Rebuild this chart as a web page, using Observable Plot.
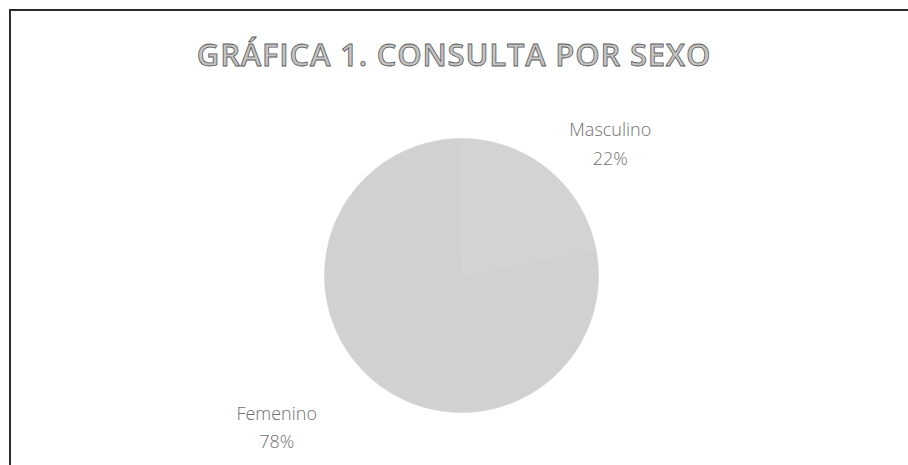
<!DOCTYPE html>
<html>
<head>
<meta charset="utf-8">
<script src="https://cdn.jsdelivr.net/npm/d3@7"></script>
<script src="https://cdn.jsdelivr.net/npm/@observablehq/plot@0.6"></script>
<style>
  html, body { margin: 0; padding: 0; background: #fff; }
  #wrap { position: relative; width: 908px; height: 465px; overflow: hidden; background: #fff; }
  #frame { position: absolute; left: 9px; top: 9px; right: -2px; bottom: -2px;
           border-top: 2px solid #2a2a33; border-left: 2px solid #2a2a38; }
  #title { position: absolute; left: 0; width: 908px; top: 33px; text-align: center;
           font-family: "Open Sans", "DejaVu Sans", sans-serif; font-weight: 600; font-size: 31px;
           color: #c4c4c4; -webkit-text-stroke: 0.8px #5a5a5a; letter-spacing: 0.8px; }
  #chart { position: absolute; left: 0; top: 0; }
</style>
</head>
<body>
<div id="wrap">
  <div id="frame"></div>
  <div id="chart"></div>
  <div id="title">GRÁFICA 1. CONSULTA POR SEXO</div>
</div>
<script>
// Data
const categories = ["Masculino", "Femenino"];
const values = [22, 78];
const labels = ["22%", "78%"];
const colors = ["#d3d3d3", "#d1d1d1"];

const rows = categories.map((c, i) => ({category: c, value: values[i], label: labels[i], color: colors[i]}));

// Pie layout (start at 12 o'clock, clockwise, in order)
const arcs = d3.pie().sort(null).value(d => d.value)(rows);

// Slice outlines in unit coordinates (angle from 12 o'clock, clockwise)
const slicePts = [];
arcs.forEach(a => {
  slicePts.push({category: a.data.category, color: a.data.color, x: 0, y: 0});
  const n = Math.max(2, Math.ceil((a.endAngle - a.startAngle) / 0.01));
  for (let k = 0; k <= n; k++) {
    const t = a.startAngle + (a.endAngle - a.startAngle) * k / n;
    slicePts.push({category: a.data.category, color: a.data.color, x: Math.sin(t), y: Math.cos(t)});
  }
});

// Label anchor at mid-angle just outside pie
const labelPts = arcs.map(a => {
  const m = (a.startAngle + a.endAngle) / 2;
  return {category: a.data.category, text: a.data.category + "\n" + a.data.label,
          x: 1.12 * Math.sin(m), y: 1.12 * Math.cos(m)};
});

const textStyle = {fontSize: 18, fill: "#707070", fontWeight: 300, lineHeight: 1.6,
                   fontFamily: "'Open Sans', sans-serif", lineAnchor: "middle", textAnchor: "middle"};

const chart = Plot.plot({
  width: 908,
  height: 465,
  margin: 0,
  style: {background: "transparent", fontFamily: "'Open Sans', sans-serif"},
  x: {domain: [-1, 1], range: [324, 598], axis: null},
  y: {domain: [-1, 1], range: [412, 138], axis: null},
  marks: [
    Plot.line(slicePts, {x: "x", y: "y", z: "category", fill: "color", stroke: "color",
                         strokeWidth: 0.5, curve: "linear-closed"}),
    Plot.text(labelPts.filter(d => d.category === "Masculino"),
              {x: "x", y: "y", text: "text", dx: 51, dy: -16, ...textStyle}),
    Plot.text(labelPts.filter(d => d.category === "Femenino"),
              {x: "x", y: "y", text: "text", dx: -87, dy: 31, ...textStyle})
  ]
});
document.getElementById("chart").appendChild(chart);
</script>
</body>
</html>
